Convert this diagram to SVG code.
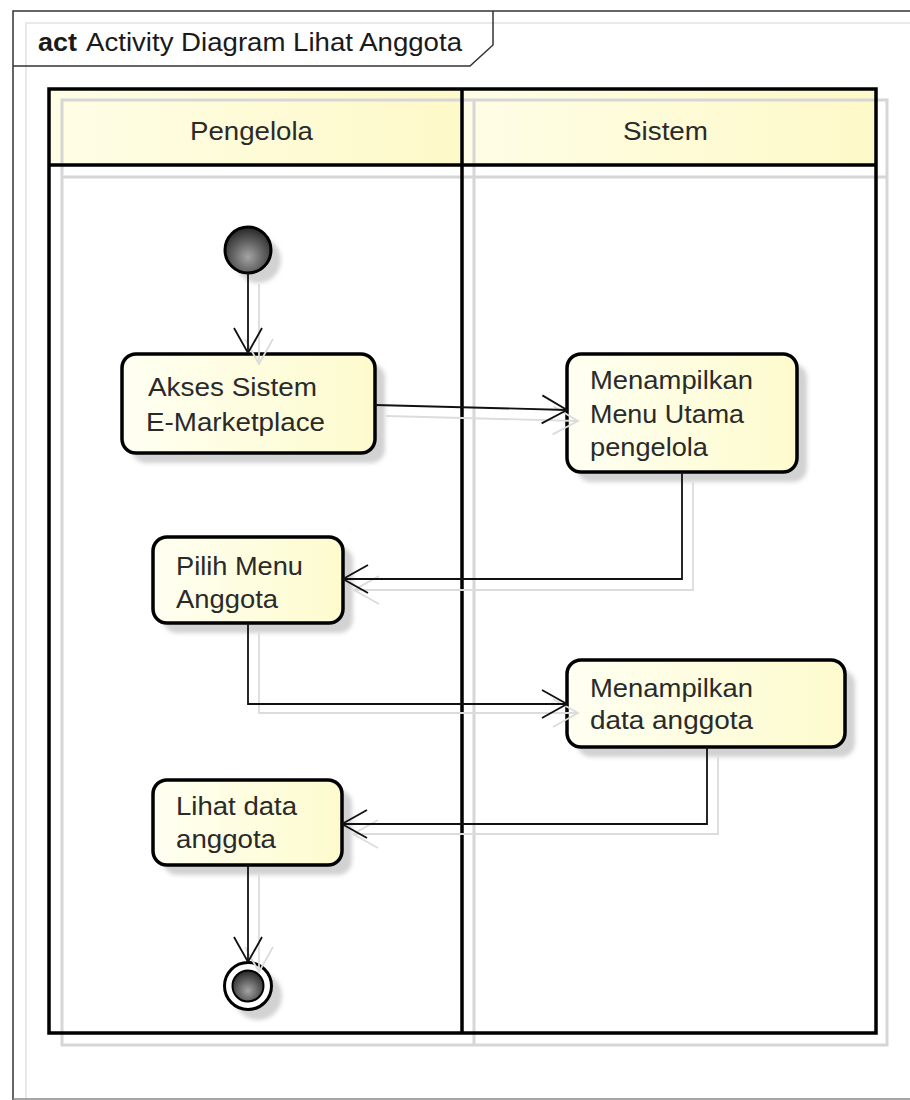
<svg xmlns="http://www.w3.org/2000/svg" width="910" height="1100" viewBox="0 0 910 1100">
  <style>
    .frame { fill: none; stroke: #333; stroke-width: 1.5; }
    .frameShadow { fill: none; stroke: #e2e2e2; stroke-width: 1.5; }
    .laneLine { fill: none; stroke: #000; stroke-width: 3.5; }
    .laneShadow { fill: none; stroke: #d6d6d6; stroke-width: 3; }
    .node { fill: url(#nodeFill); stroke: #000; stroke-width: 3.5; }
    .nodeShadow { fill: #d2d2d2; filter: url(#soft); }
    .label { font-family: "Liberation Sans", Arial, sans-serif; font-size: 26px; fill: #2a2a2a; }
    .title { font-family: "Liberation Sans", Arial, sans-serif; font-size: 26px; fill: #1a1a1a; }
    .flow { fill: none; stroke: #111; stroke-width: 1.8; marker-end: url(#arrow); }
    .flowShadow { fill: none; stroke: #dcdcdc; stroke-width: 1.8; marker-end: url(#arrowShadow); }
  </style>
  <defs>
    <linearGradient id="nodeFill" x1="0" y1="0" x2="1" y2="0">
      <stop offset="0" stop-color="#fffff2"/>
      <stop offset="1" stop-color="#fdfbcd"/>
    </linearGradient>
    <linearGradient id="headFill" x1="0" y1="0" x2="1" y2="0">
      <stop offset="0" stop-color="#fffde6"/>
      <stop offset="1" stop-color="#fdf9c8"/>
    </linearGradient>
    <radialGradient id="ballFill" cx="0.5" cy="0.65" r="0.6">
      <stop offset="0" stop-color="#a4a4a4"/>
      <stop offset="1" stop-color="#2e2e2e"/>
    </radialGradient>
    <filter id="soft" x="-20%" y="-20%" width="140%" height="140%">
      <feGaussianBlur stdDeviation="2"/>
    </filter>
    <marker id="arrow" viewBox="-28 -16 31 32" refX="0" refY="0" markerWidth="31" markerHeight="32" markerUnits="userSpaceOnUse" orient="auto">
      <path d="M-25,-14 L0,0 L-25,14" fill="none" stroke="#111" stroke-width="1.8"/>
    </marker>
    <marker id="arrowShadow" viewBox="-28 -16 31 32" refX="0" refY="0" markerWidth="31" markerHeight="32" markerUnits="userSpaceOnUse" orient="auto">
      <path d="M-25,-14 L0,0 L-25,14" fill="none" stroke="#dcdcdc" stroke-width="1.8"/>
    </marker>
  </defs>

  <rect width="910" height="1100" fill="#fff"/>

  <!-- diagram frame with name tab -->
  <g id="frame">
    <path class="frameShadow" d="M26,1100 V23 H910"/>
    <path class="frame" d="M13,1100 V11 H910"/>
    <path class="frame" d="M13,66 H470 L493,45 V11"/>
    <line x1="13" y1="1099" x2="910" y2="1099" stroke="#8a8a8a" stroke-width="1.5"/>
    <text class="title" x="38" y="51"><tspan font-weight="bold" textLength="39" lengthAdjust="spacingAndGlyphs">act</tspan></text>
    <text class="title" x="86" y="51" textLength="376" lengthAdjust="spacingAndGlyphs">Activity Diagram Lihat Anggota</text>
  </g>

  <!-- swimlanes -->
  <g id="lanes">
    <rect x="49" y="89" width="413" height="76" fill="url(#headFill)"/>
    <rect x="462" y="89" width="414" height="76" fill="url(#headFill)"/>
    <rect class="laneShadow" x="62" y="100" width="825" height="945"/>
    <line class="laneShadow" x1="474" y1="100" x2="474" y2="1045"/>
    <line class="laneShadow" x1="62" y1="177" x2="887" y2="177"/>
    <rect class="laneLine" x="49" y="89" width="827" height="944"/>
    <line class="laneLine" x1="462" y1="89" x2="462" y2="1033"/>
    <line class="laneLine" x1="49" y1="165" x2="876" y2="165"/>
    <text class="label" x="190" y="140" textLength="123" lengthAdjust="spacingAndGlyphs">Pengelola</text>
    <text class="label" x="623" y="140" textLength="85" lengthAdjust="spacingAndGlyphs">Sistem</text>
  </g>

  <!-- initial node -->
  <g id="start">
    <circle cx="258" cy="260" r="23" class="nodeShadow"/>
    <circle cx="248" cy="250" r="23" fill="url(#ballFill)" stroke="#000" stroke-width="3"/>
  </g>

  <g id="akses">
    <rect x="132" y="364" width="253" height="99" rx="14" class="nodeShadow"/>
    <rect x="122" y="354" width="253" height="99" rx="14" class="node"/>
    <text class="label" x="148" y="396" textLength="169" lengthAdjust="spacingAndGlyphs">Akses Sistem</text>
    <text class="label" x="146" y="431" textLength="179" lengthAdjust="spacingAndGlyphs">E-Marketplace</text>
  </g>

  <g id="menuUtama">
    <rect x="577" y="364" width="230" height="118" rx="14" class="nodeShadow"/>
    <rect x="567" y="354" width="230" height="118" rx="14" class="node"/>
    <text class="label" x="590" y="389" textLength="163" lengthAdjust="spacingAndGlyphs">Menampilkan</text>
    <text class="label" x="590" y="423" textLength="154" lengthAdjust="spacingAndGlyphs">Menu Utama</text>
    <text class="label" x="590" y="456" textLength="118" lengthAdjust="spacingAndGlyphs">pengelola</text>
  </g>

  <g id="pilihMenu">
    <rect x="163" y="547" width="190" height="86" rx="14" class="nodeShadow"/>
    <rect x="153" y="537" width="190" height="86" rx="14" class="node"/>
    <text class="label" x="176" y="575" textLength="127" lengthAdjust="spacingAndGlyphs">Pilih Menu</text>
    <text class="label" x="176" y="608" textLength="102" lengthAdjust="spacingAndGlyphs">Anggota</text>
  </g>

  <g id="dataAnggota">
    <rect x="577" y="670" width="278" height="87" rx="14" class="nodeShadow"/>
    <rect x="567" y="660" width="278" height="87" rx="14" class="node"/>
    <text class="label" x="590" y="697" textLength="163" lengthAdjust="spacingAndGlyphs">Menampilkan</text>
    <text class="label" x="590" y="729" textLength="163" lengthAdjust="spacingAndGlyphs">data anggota</text>
  </g>

  <g id="lihatData">
    <rect x="163" y="790" width="189" height="85" rx="14" class="nodeShadow"/>
    <rect x="153" y="780" width="189" height="85" rx="14" class="node"/>
    <text class="label" x="176" y="815" textLength="121" lengthAdjust="spacingAndGlyphs">Lihat data</text>
    <text class="label" x="176" y="848" textLength="100" lengthAdjust="spacingAndGlyphs">anggota</text>
  </g>

  <!-- final node -->
  <g id="end">
    <circle cx="258" cy="996" r="24" class="nodeShadow"/>
    <circle cx="248" cy="986" r="23.5" fill="#fff" stroke="#000" stroke-width="3"/>
    <circle cx="248" cy="986" r="15.5" fill="url(#ballFill)" stroke="#000" stroke-width="2"/>
  </g>

  <!-- control flows -->
  <g id="connectors">
    <g id="flowShadows">
      <path class="flowShadow" d="M259,284 V364"/>
      <path class="flowShadow" d="M386,416 L578,421"/>
      <path class="flowShadow" d="M693,482 V590 H354"/>
      <path class="flowShadow" d="M259,633 V713 H578"/>
      <path class="flowShadow" d="M718,757 V834 H353"/>
      <path class="flowShadow" d="M259,875 V972"/>
    </g>
    <path class="flow" d="M248,273 V353"/>
    <path class="flow" d="M375,405 L567,410"/>
    <path class="flow" d="M682,472 V579 H343"/>
    <path class="flow" d="M248,623 V704 H567"/>
    <path class="flow" d="M707,747 V824 H342"/>
    <path class="flow" d="M248,865 V962"/>
  </g>
</svg>
